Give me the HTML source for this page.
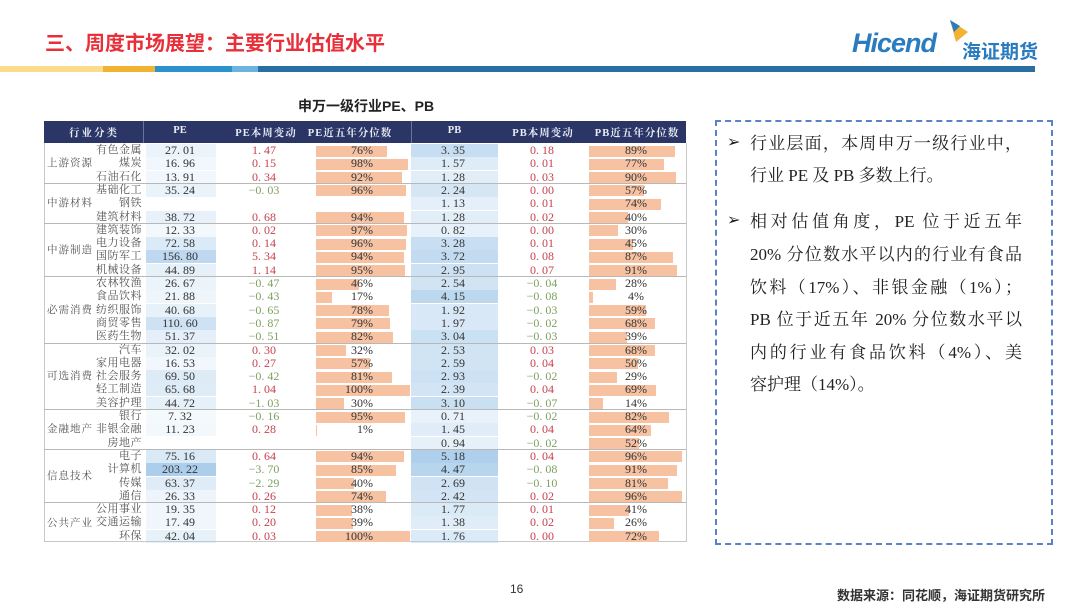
<!DOCTYPE html>
<html><head><meta charset="utf-8"><style>
body{margin:0;width:1080px;height:608px;background:#fff;position:relative;overflow:hidden;font-family:"Liberation Serif","Noto Serif CJK SC",serif}
.a{position:absolute;white-space:nowrap}
.t{font-size:12px;line-height:13px;height:13px}
.l{position:absolute;left:750px;width:272px;font:17px 'Liberation Serif','Noto Serif CJK SC',serif;color:#222;height:24px;line-height:24px;white-space:nowrap;text-align:justify;text-align-last:justify}
.e{text-align-last:left}
</style></head><body>
<div class="a" style="left:45px;top:27px;font:bold 20px 'Liberation Sans','Noto Sans CJK SC',sans-serif;color:#e8303a">三、周度市场展望：主要行业估值水平</div>
<div class="a" style="left:852px;top:28px;font:italic bold 27px 'Liberation Sans',sans-serif;color:#2a7bbf;letter-spacing:-1px">Hicend</div>
<svg class="a" style="left:942px;top:18px" width="30" height="30"><polygon points="8,2 26,14 14,24" fill="#f2b234"/><polygon points="8,2 18,8 12,14" fill="#2a7bbf"/></svg>
<div class="a" style="left:962px;top:40px;font:bold 19px 'Noto Sans CJK SC',sans-serif;color:#2a7bbf;line-height:22px">海证期货</div>
<div class="a" style="left:0;top:66px;width:103px;height:6px;background:#f9dc8c"></div>
<div class="a" style="left:103px;top:66px;width:52px;height:6px;background:#f2b234"></div>
<div class="a" style="left:155px;top:66px;width:77px;height:6px;background:#2a93cc"></div>
<div class="a" style="left:232px;top:66px;width:26px;height:6px;background:#6cb4e0"></div>
<div class="a" style="left:258px;top:66px;width:777px;height:6px;background:#2a6fa4"></div>
<div class="a" style="left:298px;top:96px;font:bold 14px 'Liberation Sans','Noto Sans CJK SC',sans-serif;color:#222">申万一级行业PE、PB</div>
<div id="tb"></div>
<div class="a" style="left:715px;top:120px;width:334px;height:421px;border:2px dashed #5b82c8"></div>
<div class="a" style="left:727px;top:132px;font:16px 'DejaVu Sans',sans-serif;color:#222">➢</div>
<div class="a" style="left:727px;top:210px;font:16px 'DejaVu Sans',sans-serif;color:#222">➢</div>
<div class="l" style="top:132px">行业层面，本周申万一级行业中，</div>
<div class="l e" style="top:164px">行业 PE 及 PB 多数上行。</div>
<div class="l" style="top:210px">相对估值角度，PE 位于近五年</div>
<div class="l" style="top:243px">20% 分位数水平以内的行业有食品</div>
<div class="l" style="top:276px">饮料（17%）、非银金融（1%）；</div>
<div class="l" style="top:308px">PB 位于近五年 20% 分位数水平以</div>
<div class="l" style="top:341px">内的行业有食品饮料（4%）、美</div>
<div class="l e" style="top:373px">容护理（14%）。</div>
<div class="a" style="left:510px;top:582px;font:12px 'Liberation Sans',sans-serif;color:#333">16</div>
<div class="a" style="left:837px;top:585px;font:bold 13px 'Liberation Sans','Noto Sans CJK SC',sans-serif;color:#333">数据来源：同花顺，海证期货研究所</div>
<script>
var D=[["上游资源","有色金属",27.01,1.47,76,3.35,.18,89],["","煤炭",16.96,.15,98,1.57,.01,77],["","石油石化",13.91,.34,92,1.28,.03,90],
["中游材料","基础化工",35.24,-.03,96,2.24,0,57],["","钢铁",null,null,null,1.13,.01,74],["","建筑材料",38.72,.68,94,1.28,.02,40],
["中游制造","建筑装饰",12.33,.02,97,.82,0,30],["","电力设备",72.58,.14,96,3.28,.01,45],["","国防军工",156.80,5.34,94,3.72,.08,87],["","机械设备",44.89,1.14,95,2.95,.07,91],
["必需消费","农林牧渔",26.67,-.47,46,2.54,-.04,28],["","食品饮料",21.88,-.43,17,4.15,-.08,4],["","纺织服饰",40.68,-.65,78,1.92,-.03,59],["","商贸零售",110.60,-.87,79,1.97,-.02,68],["","医药生物",51.37,-.51,82,3.04,-.03,39],
["可选消费","汽车",32.02,.30,32,2.53,.03,68],["","家用电器",16.53,.27,57,2.59,.04,50],["","社会服务",69.50,-.42,81,2.93,-.02,29],["","轻工制造",65.68,1.04,100,2.39,.04,69],["","美容护理",44.72,-1.03,30,3.10,-.07,14],
["金融地产","银行",7.32,-.16,95,.71,-.02,82],["","非银金融",11.23,.28,1,1.45,.04,64],["","房地产",null,null,null,.94,-.02,52],
["信息技术","电子",75.16,.64,94,5.18,.04,96],["","计算机",203.22,-3.70,85,4.47,-.08,91],["","传媒",63.37,-2.29,40,2.69,-.10,81],["","通信",26.33,.26,74,2.42,.02,96],
["公共产业","公用事业",19.35,.12,38,1.77,.01,41],["","交通运输",17.49,.20,39,1.38,.02,26],["","环保",42.04,.03,100,1.76,0,72]];
var G={0:3,3:3,6:4,10:5,15:5,20:3,23:4,27:3};
var h='',T=144,R=13.3,B=" style=\"";
function d(s,c){h+='<div class="a t"'+B+s+'">'+(c==null?'':c)+'</div>';}
function f(v){return v.toFixed(2).replace('.','. ');}
function cc(v){return v<0?'#7fa060':'#c8404c';}
h+='<div class="a" style="left:44px;top:121px;width:642px;height:22px;background:#2b3566"></div>';
var H=[[44,100,"行业分类",2],[146,68,"PE",0],[216,100,"PE本周变动",1],[290,120,"PE近五年分位数",1],[411,87,"PB",0],[498,90,"PB本周变动",1],[588,98,"PB近五年分位数",1]];
H.forEach(function(x){h+='<div class="a" style="left:'+x[0]+'px;top:125px;width:'+x[1]+'px;text-align:center;color:#e8ecf5;font:bold 10.5px \'Liberation Serif\',\'Noto Serif CJK SC\',serif;letter-spacing:'+x[3]+'px">'+x[2]+'</div>';});
h+='<div class="a" style="left:143px;top:121px;width:1px;height:22px;background:#6b7399"></div><div class="a" style="left:411px;top:121px;width:1px;height:22px;background:#6b7399"></div>';
h+='<div class="a" style="left:44px;top:143px;width:641px;height:398px;border:1px solid #c8c8c8;border-top:0"></div>';
D.forEach(function(r,i){var y=T+i*R;
 if(G[i]!=null){var n=G[i];d('left:46px;top:'+(y+(n*R-13)/2)+'px;width:48px;text-align:center;letter-spacing:1px;color:#555;font-size:10.5px',r[0]);
  if(i>0)h+='<div class="a" style="left:44px;top:'+(y-1)+'px;width:642px;height:1px;background:#b8b8b8"></div>';}
 d('left:90px;top:'+y+'px;width:52px;text-align:right;letter-spacing:0.5px;color:#555;font-size:11px',r[1]);
 if(r[2]!=null){var a=Math.min(1,0.1+r[2]/230);h+='<div class="a" style="left:146px;top:'+y+'px;width:70px;height:13px;background:rgba(170,205,235,'+a.toFixed(2)+')"></div>';
  d('left:146px;top:'+y+'px;width:68px;text-align:center;color:#333',f(r[2]));
  d('left:216px;top:'+y+'px;width:96px;text-align:center;color:'+cc(r[3]),(r[3]<0?'−':'')+f(Math.abs(r[3])));
  h+='<div class="a" style="left:316px;top:'+(y+1.5)+'px;width:'+(Math.max(1,r[4]*0.94))+'px;height:11px;background:#f6c2a2"></div>';
  d('left:316px;top:'+y+'px;width:57px;text-align:right;color:#333',r[4]+'%');}
 var b=Math.min(1,0.15+r[5]/6.5);h+='<div class="a" style="left:411px;top:'+y+'px;width:87px;height:13px;background:rgba(170,205,235,'+b.toFixed(2)+')"></div>';
 d('left:411px;top:'+y+'px;width:84px;text-align:center;color:#333',f(r[5]));
 d('left:498px;top:'+y+'px;width:88px;text-align:center;color:'+cc(r[6]),(r[6]<0?'−':'')+f(Math.abs(r[6])));
 h+='<div class="a" style="left:589px;top:'+(y+1.5)+'px;width:'+(r[7]*0.97)+'px;height:11px;background:#f6c2a2"></div>';
 d('left:589px;top:'+y+'px;width:94px;text-align:center;color:#333',r[7]+'%');
});
document.getElementById('tb').innerHTML=h;
</script>
</body></html>
